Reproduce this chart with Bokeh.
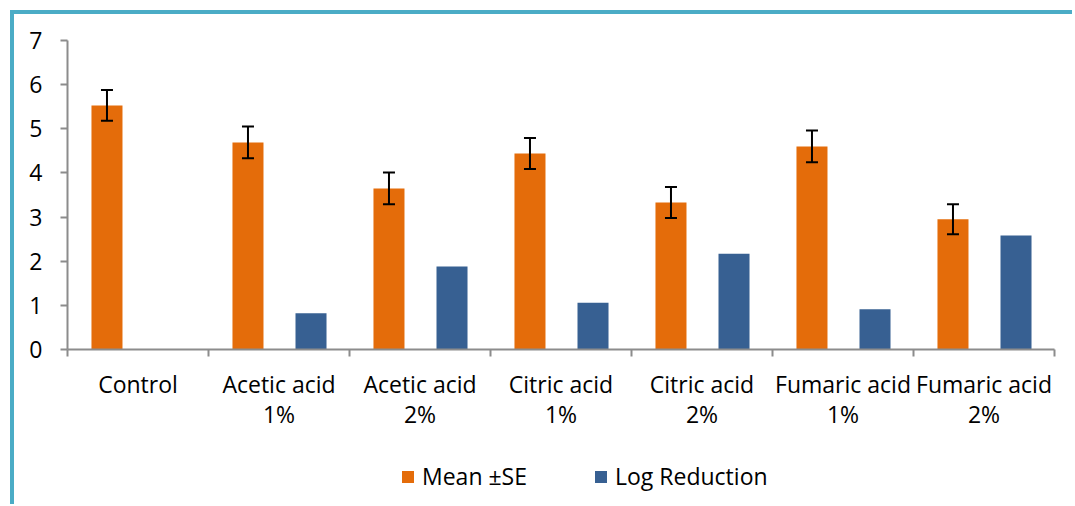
from bokeh.plotting import figure
from bokeh.layouts import column
from bokeh.models import (ColumnDataSource, FixedTicker, Whisker, Legend, LegendItem,
                          TeeHead, Range1d)
from bokeh.embed import file_html
from bokeh.resources import INLINE

categories = ["Control", "Acetic acid\n1%", "Acetic acid\n2%", "Citric acid\n1%",
              "Citric acid\n2%", "Fumaric acid\n1%", "Fumaric acid\n2%"]
mean_vals = [5.53, 4.69, 3.65, 4.44, 3.33, 4.60, 2.95]
se_vals = [0.35, 0.36, 0.36, 0.35, 0.35, 0.36, 0.34]
log_reduction = [0.0, 0.82, 1.88, 1.06, 2.17, 0.91, 2.58]
series_names = ["Mean ±SE", "Log Reduction"]
y_ticks = [0, 1, 2, 3, 4, 5, 6, 7]

FONT = "Open Sans"
FS = "23px"
ORANGE = "#E46C0A"
BLUE = "#376092"
GREY = "#8C8C8C"
TEAL = "#4BACC6"

n = len(categories)
idx = list(range(n))
src = ColumnDataSource(dict(
    x_mean=[i + 0.28 for i in idx],
    x_log=[i + 0.727 for i in idx],
    mean=mean_vals,
    log=log_reduction,
    upper=[m + s for m, s in zip(mean_vals, se_vals)],
    lower=[m - s for m, s in zip(mean_vals, se_vals)],
))

# ---- main chart ----
p = figure(width=1058, height=430, output_backend="svg", toolbar_location=None,
           x_range=Range1d(0, n), y_range=Range1d(0, 7),
           min_border_left=53, min_border_right=18, min_border_top=26,
           min_border_bottom=95)
p.outline_line_color = None
p.grid.visible = False

p.vbar(x="x_mean", top="mean", width=0.22, source=src,
       fill_color=ORANGE, line_color=None)
p.vbar(x="x_log", top="log", width=0.22, source=src,
       fill_color=BLUE, line_color=None)

w = Whisker(source=src, base="x_mean", upper="upper", lower="lower",
            line_color="black", line_width=2, level="overlay",
            upper_head=TeeHead(size=12, line_color="black", line_width=2),
            lower_head=TeeHead(size=12, line_color="black", line_width=2))
p.add_layout(w)

xa = p.xaxis[0]
xa.ticker = FixedTicker(ticks=[i + 0.5 for i in idx], minor_ticks=list(range(n + 1)))
xa.major_label_overrides = {i + 0.5: c for i, c in zip(idx, categories)}
xa.major_tick_line_color = None
xa.minor_tick_line_color = GREY
xa.minor_tick_line_width = 2
xa.minor_tick_out = 7
xa.minor_tick_in = 0
xa.axis_line_color = GREY
xa.axis_line_width = 2
xa.major_label_text_font = FONT
xa.major_label_text_font_size = FS
xa.major_label_text_color = "black"
xa.major_label_text_line_height = 0.95
xa.major_label_standoff = 11

ya = p.yaxis[0]
ya.ticker = FixedTicker(ticks=y_ticks)
ya.major_tick_line_color = GREY
ya.major_tick_line_width = 2
ya.major_tick_out = 7
ya.major_tick_in = 0
ya.minor_tick_line_color = None
ya.axis_line_color = GREY
ya.axis_line_width = 2
ya.major_label_text_font = FONT
ya.major_label_text_font_size = FS
ya.major_label_text_color = "black"
ya.major_label_standoff = 18

# ---- legend strip ----
lg = figure(width=1058, height=60, output_backend="svg", toolbar_location=None,
            x_range=Range1d(0, 1), y_range=Range1d(0, 1),
            min_border=0)
lg.outline_line_color = None
lg.grid.visible = False
lg.axis.visible = False
k_mean = lg.vbar(x="x_mean", top="mean", width=0.22, source=src,
                 fill_color=ORANGE, line_color=None, visible=False)
k_log = lg.vbar(x="x_log", top="log", width=0.22, source=src,
                fill_color=BLUE, line_color=None, visible=False)
legend = Legend(items=[LegendItem(label=series_names[0], renderers=[k_mean], index=1),
                       LegendItem(label=series_names[1], renderers=[k_log], index=1)],
                orientation="horizontal", location=(333, 12),
                glyph_width=15, glyph_height=15, label_standoff=7, spacing=66,
                padding=0, margin=0, border_line_color=None,
                background_fill_alpha=0, inactive_fill_alpha=0,
                label_text_font=FONT, label_text_font_size=FS,
                label_text_line_height=1.0,
                label_text_color="black")
lg.add_layout(legend, "center")

layout = column(p, lg, spacing=0)
layout.styles = {"border-left": "4px solid " + TEAL, "border-top": "4px solid " + TEAL,
                 "margin-left": "10px", "margin-top": "10px"}

open("out.html", "w").write(file_html(layout, INLINE))
